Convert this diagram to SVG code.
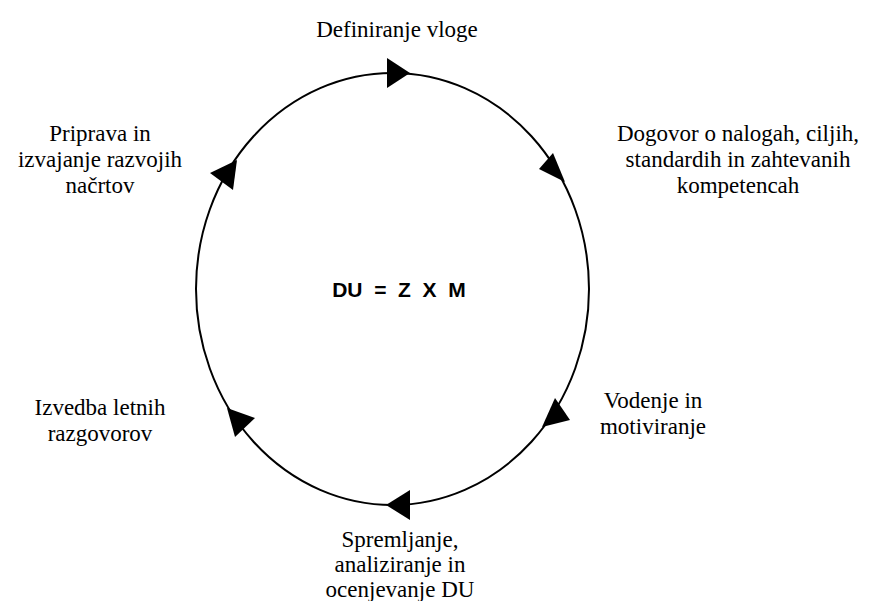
<svg xmlns="http://www.w3.org/2000/svg" width="869" height="601" viewBox="0 0 869 601">
<style>
.lbl{font-family:"Liberation Serif","Times New Roman",serif;font-size:23px;fill:#000;text-anchor:middle}
.eq{font-family:"Liberation Sans",Arial,sans-serif;font-size:21px;font-weight:bold;fill:#000;text-anchor:middle}
.ring{fill:none;stroke:#000;stroke-width:2}
.ah{fill:#000;stroke:none}
</style>
<rect width="869" height="601" fill="#fff"/>
<g id="connectors">
<ellipse class="ring" cx="392.5" cy="289" rx="196.5" ry="216"/>
<polygon class="ah" points="387,58 387,88 410,73"/>
<polygon class="ah" points="553,153 539,169 565,182"/>
<polygon class="ah" points="555,398 570,420 542,427"/>
<polygon class="ah" points="410,490 410,520 386,505"/>
<polygon class="ah" points="227,408 255,418 235,437"/>
<polygon class="ah" points="237,160 210,173 233,190"/>
</g>
<g id="n-definiranje"><text class="lbl" x="397" y="37">Definiranje vloge</text></g>
<g id="n-dogovor"><text class="lbl" x="738" y="141">Dogovor o nalogah, ciljih,</text><text class="lbl" x="738" y="167">standardih in zahtevanih</text><text class="lbl" x="738" y="193">kompetencah</text></g>
<g id="n-vodenje"><text class="lbl" x="653" y="408">Vodenje in</text><text class="lbl" x="653" y="434">motiviranje</text></g>
<g id="n-spremljanje"><text class="lbl" x="400" y="547">Spremljanje,</text><text class="lbl" x="400" y="572">analiziranje in</text><text class="lbl" x="400" y="597">ocenjevanje DU</text></g>
<g id="n-izvedba"><text class="lbl" x="100" y="415">Izvedba letnih</text><text class="lbl" x="100" y="441">razgovorov</text></g>
<g id="n-priprava"><text class="lbl" x="100" y="141">Priprava in</text><text class="lbl" x="100" y="167">izvajanje razvojih</text><text class="lbl" x="100" y="193">načrtov</text></g>
<g id="n-formula"><text class="eq" x="399" y="297" xml:space="preserve">DU  =  Z  X  M</text></g>
</svg>
